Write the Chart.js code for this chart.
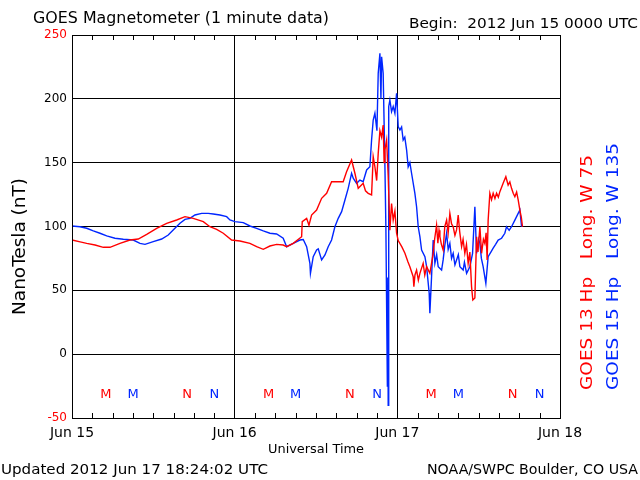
<!DOCTYPE html>
<html>
<head>
<meta charset="utf-8">
<script src="https://cdn.jsdelivr.net/npm/chart.js@4"></script>
<style>
html,body{margin:0;padding:0;background:#fff;}
canvas{display:block;}
</style>
</head>
<body>
<canvas id="c" width="640" height="480"></canvas>
<script>
// ---- data (hours since 2012 Jun 15 00:00 UTC, nT) ----
const dayLabels = ["Jun 15", "Jun 16", "Jun 17", "Jun 18"];
const yTickValues = [-50, 0, 50, 100, 150, 200, 250];

const redHours = [0,1.2,2.17,3.4,4.62,5.6,7.08,8.55,9.78,11.02,12.49,13.97,15.44,16.67,17.89,19.37,20.35,21.34,22.32,23.55,24.78,26.25,27.24,28.22,29.2,30.19,31.16,31.67,32.64,33.88,33.97,34.62,34.96,35.35,36.09,36.83,37.57,38.3,39.04,40.01,40.51,41.25,41.74,42.23,42.96,43.3,43.7,44.2,44.44,44.69,44.95,45.18,45.43,45.68,45.91,46.05,46.17,46.42,46.65,46.9,47.15,47.39,47.64,47.89,48.13,48.67,49.12,49.56,49.85,50.34,50.44,50.6,50.84,51.1,51.33,51.81,52.05,52.32,52.8,53.29,53.5,53.79,53.98,54.15,54.28,54.5,54.76,55.0,55.27,55.5,55.75,56.0,56.24,56.5,56.74,56.98,57.2,57.48,57.7,57.96,58.2,58.45,58.7,58.95,59.14,59.44,59.69,59.9,60.18,60.43,60.7,60.91,61.1,61.25,61.4,61.65,61.9,62.14,62.4,62.64,62.9,63.13,63.4,63.61,64.01,64.35,64.6,64.85,65.1,65.34,65.6,65.83,66.08,66.3,66.47];
const redValues = [89.4,88,86.8,85.5,83.7,83.7,86.8,89.4,90.2,93.9,98.6,102.5,105.1,107.7,106.4,103.8,99.8,97.8,94.7,89.4,88.6,86.8,84.2,82.1,84.7,86.0,85.5,84.2,86.8,92.0,103.8,106.4,101,109,112.9,122.1,126,135.1,135.1,135.1,142.9,152.1,141.7,129.9,133.8,128,126,124.7,154.7,146.8,136,157.3,175,170,179.5,150,160,167.7,140,97,118,105,112,94.7,89,84,79,72.4,68.5,60.7,52.9,62,65.9,58,63.3,71.2,62,68.5,63.3,79,90,101,87,97,92,86,81.6,100,105,95,110.3,102,99.8,93,97.3,109,96,84.2,90,79,86,71.2,80,52.9,42.4,44,92,80,99.8,79,90,86.8,95,73.8,105,126,121,126,122,126,123,127.3,131,133.8,139,132.5,135,129.9,126,123.3,127,120.8,112.9,107,99.8];

const blueHours = [0,1.18,2.17,3.14,4.13,5.12,6.34,7.57,9.04,10.03,10.77,11.99,13.23,14.2,15.19,15.93,16.67,17.4,18.14,19.13,20.1,20.84,21.83,22.82,23.3,24.04,25.27,26.25,27.24,28.22,29.2,30.19,31.16,31.67,32.64,33.63,34.12,34.62,35.1,35.18,35.59,36.09,36.33,36.83,37.32,37.8,38.3,38.79,39.28,39.78,40.27,40.75,41.25,41.49,41.99,42.48,42.96,43.47,43.95,44.2,44.44,44.69,44.99,45.18,45.43,45.58,45.68,45.91,46.17,46.31,46.53,46.6,46.65,46.73,46.9,47.15,47.39,47.64,47.89,48.13,48.38,48.63,48.86,49.1,49.37,49.6,49.85,50.1,50.59,50.84,51.08,51.33,51.58,52.07,52.32,52.7,52.8,53.05,53.29,53.54,53.8,54.03,54.53,54.76,55.0,55.27,55.5,55.75,56.0,56.24,56.5,56.74,57.0,57.23,57.71,57.9,58.22,58.7,59.1,59.44,59.69,60.0,60.18,60.4,60.66,61.06,61.4,61.8,62.14,62.5,62.88,63.38,63.86,64.11,64.5,64.85,65.34,65.83,66.08,66.33];
const blueValues = [100.4,99.8,98.6,96.5,94.7,92.6,90.8,90,89.4,86.8,86,88.1,90.2,93.3,98.6,102.5,105.6,106.4,109,110.3,110.3,109.8,109,107.7,105.1,103.8,103,100.4,98.6,96.5,94.7,94.1,90.8,84.2,86.8,89.4,89.8,84.2,71.2,63.3,76.4,81.6,82.5,73.8,77.7,84.2,89.4,99.8,106.4,111.6,120.8,129.9,141.7,137.8,133.8,136.4,135.1,144.3,146.8,167.7,183.4,188.7,175,220,235.7,200,233,220,146.8,100,-25,60,-40,194,199,190,193.9,188.7,204.3,178.2,175.6,178,167.7,170,159.9,146.8,150,141.7,126,115.5,99.8,92,81.6,76.4,68.5,47.7,32,60.7,89.4,71.2,78,68.5,65.9,73.8,85,94.7,82,86.8,75,79,70,73.8,78,68.5,65.9,72,63.3,68.5,79,115.5,79,90,86.8,75,68.5,55.5,76.4,80,83.1,86,89.4,90.8,94.7,99.8,97,99.8,105,110.3,112.9,99.8];

// local midnight (M) / noon (N) markers
const markerHours = [5, 9, 17, 21, 29, 33, 41, 45, 53, 57, 65, 69];
const markerLetters = ["M","M","N","N","M","M","N","N","M","M","N","N"];
const markerSeries = [0,1,0,1,0,1,0,1,0,1,0,1];
const markerValue = -32;

const RED = "#ff0000";
const BLUE = "#0026ff";
const FONT = "'DejaVu Sans', sans-serif";

function pts(xs, ys) { return xs.map((x, i) => ({x: x, y: ys[i]})); }

function fitText(ctx, text, x0, x1, y, color, size, rot) {
  ctx.save();
  ctx.font = size + "px " + FONT;
  ctx.fillStyle = color;
  ctx.textBaseline = "middle";
  ctx.textAlign = "left";
  const w = ctx.measureText(text).width;
  const target = Math.abs(x1 - x0);
  ctx.translate(x0, y);
  if (rot) ctx.rotate(-Math.PI / 2);
  ctx.scale(target / w, 1);
  ctx.fillText(text, 0, 0);
  ctx.restore();
}

const decor = {
  id: "decor",
  afterDraw(chart) {
    const ctx = chart.ctx;
    const a = chart.chartArea;
    const xs = chart.scales.x, ys = chart.scales.y;
    ctx.save();
    ctx.strokeStyle = "#000";
    ctx.lineWidth = 1;
    ctx.strokeRect(Math.round(a.left) + 0.5, Math.round(a.top) + 0.5, Math.round(a.right - a.left), Math.round(a.bottom - a.top));
    // minor ticks every 3 h, top and bottom, inward
    ctx.beginPath();
    for (let h = 3; h < 72; h += 3) {
      if (h % 24 === 0) continue;
      const px = Math.round(xs.getPixelForValue(h)) + 0.5;
      ctx.moveTo(px, a.bottom); ctx.lineTo(px, a.bottom - 5);
      ctx.moveTo(px, a.top); ctx.lineTo(px, a.top + 5);
    }
    ctx.stroke();
    // M / N markers
    ctx.font = "13px " + FONT;
    ctx.textAlign = "center";
    ctx.textBaseline = "middle";
    const my = ys.getPixelForValue(markerValue);
    markerHours.forEach((h, i) => {
      ctx.fillStyle = markerSeries[i] === 0 ? RED : BLUE;
      ctx.fillText(markerLetters[i], xs.getPixelForValue(h), my);
    });
    ctx.restore();

    fitText(ctx, "GOES Magnetometer (1 minute data)", 33, 329, 19.5, "#000", 15, false);
    fitText(ctx, "Begin:  2012 Jun 15 0000 UTC", 409, 638, 24, "#000", 14, false);
    fitText(ctx, "Updated 2012 Jun 17 18:24:02 UTC", 1, 268, 470, "#000", 14, false);
    fitText(ctx, "NOAA/SWPC Boulder, CO USA", 427, 638, 470, "#000", 14, false);
    fitText(ctx, "Universal Time", 268, 364, 449.5, "#000", 13, false);
    // rotated labels (x0/x1 here are the vertical extent)
    ctx.save(); ctx.translate(21, 315); fitText(ctx, "NanoTesla (nT)", 0, 137, 0, "#000", 17, true); ctx.restore();
    ctx.save(); ctx.translate(588.5, 390); fitText(ctx, "GOES 13 Hp   Long. W 75", 0, 235, 0, RED, 15, true); ctx.restore();
    ctx.save(); ctx.translate(614, 390); fitText(ctx, "GOES 15 Hp   Long. W 135", 0, 247, 0, BLUE, 15, true); ctx.restore();
  }
};

new Chart(document.getElementById("c"), {
  type: "line",
  data: {
    datasets: [
      { label: "GOES 13 Hp", data: pts(redHours, redValues), borderColor: RED, borderWidth: 1.4, pointRadius: 0, tension: 0, fill: false },
      { label: "GOES 15 Hp", data: pts(blueHours, blueValues), borderColor: BLUE, borderWidth: 1.4, pointRadius: 0, tension: 0, fill: false }
    ]
  },
  options: {
    responsive: false,
    animation: false,
    layout: { padding: { left: 0, right: 80, top: 35, bottom: 0 } },
    plugins: { legend: { display: false }, tooltip: { enabled: false }, title: { display: false } },
    scales: {
      x: {
        type: "linear", min: 0, max: 72,
        afterFit(s) { s.height = 62; },
        afterBuildTicks(s) { s.ticks = [0, 24, 48, 72].map(v => ({ value: v })); },
        ticks: {
          callback: (v) => dayLabels[Math.round(v / 24)],
          color: "#000", font: { family: FONT, size: 14 }, padding: 7, maxRotation: 0, autoSkip: false
        },
        grid: { color: "#000", lineWidth: 1, drawTicks: false },
        border: { color: "#000", width: 1 }
      },
      y: {
        min: -50, max: 250,
        afterFit(s) { s.width = 72; },
        afterBuildTicks(s) { s.ticks = yTickValues.map(v => ({ value: v })); },
        ticks: {
          color: (c) => (c.tick.value === 250 || c.tick.value === -50) ? RED : "#000",
          font: { family: FONT, size: 12 }, padding: 5
        },
        grid: { color: "#000", lineWidth: 1, drawTicks: false },
        border: { color: "#000", width: 1 }
      }
    }
  },
  plugins: [decor]
});
</script>
</body>
</html>
